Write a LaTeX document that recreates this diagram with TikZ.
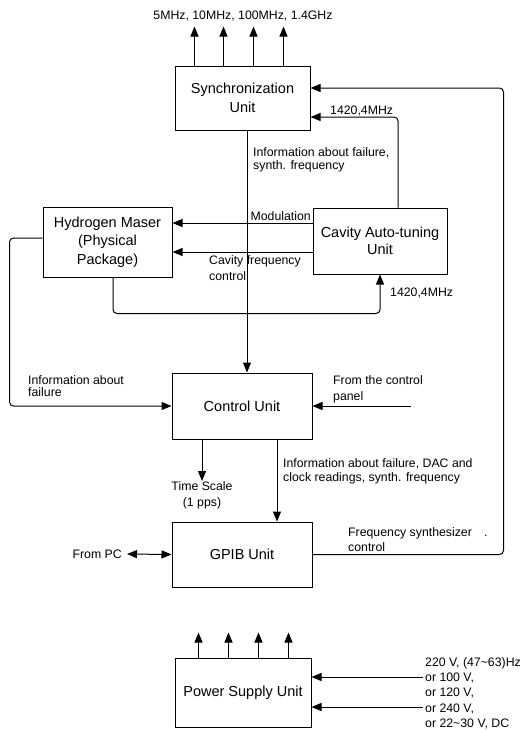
\documentclass[tikz,border=0pt]{standalone}
\usepackage{fontspec}
\setmainfont{Liberation Sans}
\usetikzlibrary{arrows.meta,calc}

\tikzset{
  unit/.style={draw,line width=1pt,inner sep=0pt,align=center,
    font=\fontsize{14.5}{19}\selectfont},
  sig/.style={line width=1pt,-{Triangle[length=10pt,width=8pt]}},
  sigboth/.style={line width=1pt,{Triangle[length=10pt,width=8pt]}-{Triangle[length=10pt,width=8pt]}},
  lbl/.style={font=\fontsize{12.3}{13}\selectfont,align=left,inner sep=0pt}
}

\begin{document}
\begin{tikzpicture}[x=1pt,y=-1pt]
  \useasboundingbox (0,0) rectangle (527,731);

  % units
  \node[unit,minimum width=135pt,minimum height=64pt] (sync) at (242.5,98)
    {Synchronization\\Unit};
  \node[unit,minimum width=129pt,minimum height=70pt,
    font=\fontsize{14.5}{18.5}\selectfont] (maser) at (107.5,242)
    {Hydrogen Maser\\(Physical\\Package)};
  \node[unit,minimum width=134pt,minimum height=66pt,
    font=\fontsize{14.5}{17}\selectfont] (cavity) at (380,241)
    {Cavity Auto-tuning\\Unit};
  \node[unit,minimum width=140pt,minimum height=66pt] (control) at (242,406)
    {Control Unit};
  \node[unit,minimum width=140pt,minimum height=65pt] (gpib) at (242,554.5)
    {GPIB Unit};
  \node[unit,minimum width=136pt,minimum height=69pt] (power) at (243,692.5)
    {Power Supply Unit};

  % labels
  \node[lbl] (outlbl) at (243,16) {5MHz, 10MHz, 100MHz, 1.4GHz};
  \node[lbl,anchor=north west] (synclbl) at (253,147)
    {Information about failure,\\synth. frequency};
  \node[lbl,anchor=base west] (hfup) at (330,114) {1420,4MHz};
  \node[lbl,anchor=base east] (modlbl) at (311,220) {Modulation};
  \node[lbl,anchor=north west,font=\fontsize{12.3}{16.5}\selectfont] (cavlbl)
    at (209,255) {Cavity frequency\\control};
  \node[lbl,anchor=west] (hfdown) at (390,293) {1420,4MHz};
  \node[lbl,anchor=north west,font=\fontsize{12.3}{12.5}\selectfont] (faillbl)
    at (28,375) {Information about\\failure};
  \node[lbl,anchor=north west,font=\fontsize{12.3}{16.5}\selectfont] (panellbl)
    at (333,375) {From the control\\panel};
  \node[lbl,anchor=north,align=center,font=\fontsize{12.3}{16}\selectfont] (tscale)
    at (202,481) {Time Scale\\(1 pps)};
  \node[lbl,anchor=north west,font=\fontsize{12.3}{14}\selectfont] (gpiblbl)
    at (283,458) {Information about failure, DAC and\\clock readings, synth. frequency};
  \node[lbl,anchor=north west,font=\fontsize{12.3}{15}\selectfont] (synthlbl)
    at (348,527) {Frequency synthesizer\quad.\\control};
  \node[lbl,anchor=east] (frompc) at (122,554) {From PC};
  \node[lbl,anchor=north west,font=\fontsize{12.3}{15.3}\selectfont] (volt)
    at (425,657) {220 V, (47\textasciitilde63)Hz\\or 100 V,\\or 120 V,\\or 240 V,\\or 22\textasciitilde30 V, DC};

  % outputs
  \foreach \dx in {20,49,79,109}
    \draw[sig] ([xshift=\dx pt]sync.north west) -- ++(0,-39);
  \foreach \dx in {24,54,84,114}
    \draw[sig] ([xshift=\dx pt]power.north west) -- ++(0,-25);

  % connections
  \coordinate (cline) at ([xshift=5pt]control.north);
  \draw[sig] (cline |- sync.south) -- (cline);
  \draw[sig] ([yshift=18pt]cavity.west) -- ([yshift=18pt]cavity.west -| maser.east);
  \draw[sig] ([yshift=-11pt]cavity.west) -- ([yshift=-11pt]cavity.west -| maser.east);
  \draw[sig,rounded corners=4pt] ([xshift=18pt]cavity.north) |- ([yshift=-19pt]sync.east);
  \draw[sig,rounded corners=4pt] (gpib.east) -| ([xshift=193pt,yshift=10pt]sync.east)
    -- ([yshift=10pt]sync.east);
  \draw[sig,rounded corners=4pt] ([xshift=5.5pt]maser.south) -- ++(0,36) -| (cavity.south);
  \draw[sig,rounded corners=4pt] ([yshift=4pt]maser.west) -- ++(-33,0) |- (control.west);
  \coordinate (panel) at ([xshift=98pt]control.east);
  \draw[sig] (panel) -- (control.east);
  \draw[sig] ([xshift=-40pt]control.south) -- ([xshift=-40pt]control.south |- tscale.north);
  \draw[sig] ([xshift=35pt]control.south) -- ([xshift=35pt]gpib.north);
  \draw[sigboth] ([xshift=5pt]frompc.east) -- (gpib.west);
  \coordinate (vin1) at ([yshift=15.5pt]power.east);
  \coordinate (vin2) at ([yshift=-14.5pt]power.east);
  \draw[sig] ([xshift=-2pt]volt.west |- vin1) -- (vin1);
  \draw[sig] ([xshift=-2pt]volt.west |- vin2) -- (vin2);
\end{tikzpicture}
\end{document}
